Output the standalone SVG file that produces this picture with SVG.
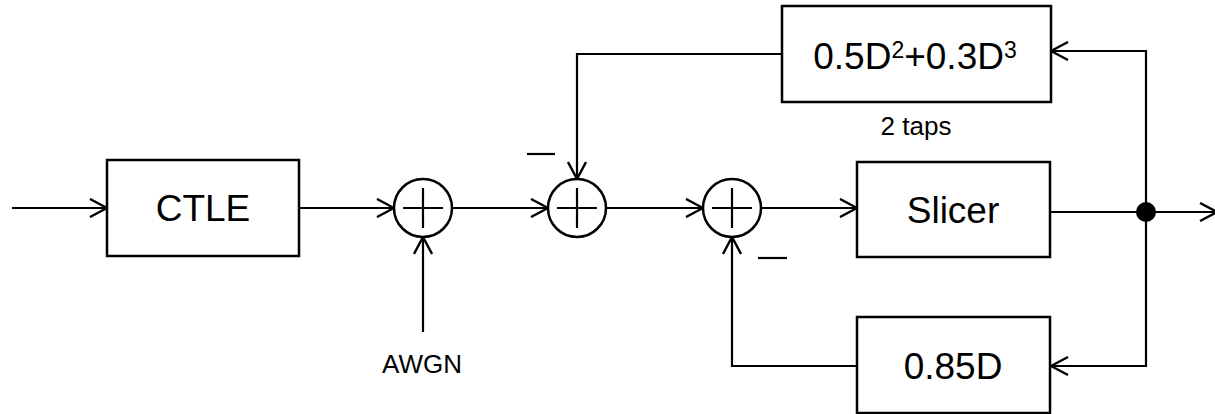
<svg xmlns="http://www.w3.org/2000/svg" width="1215" height="414" viewBox="0 0 1215 414">
<style>
.box{fill:#fff;stroke:#000;stroke-width:2.5}
.ln{fill:none;stroke:#000;stroke-width:2.2}
.sum{fill:#fff;stroke:#000;stroke-width:2.5}
.big{font-family:"Liberation Sans",Arial,sans-serif;font-size:37px;fill:#000;text-anchor:middle}
.small{font-family:"Liberation Sans",Arial,sans-serif;font-size:26px;fill:#000;text-anchor:middle}
</style>
<defs>
<marker id="arr" viewBox="0 0 20 20" refX="19" refY="10" markerWidth="20" markerHeight="20" markerUnits="userSpaceOnUse" orient="auto">
<path d="M2,1 L19,10 L2,19" fill="none" stroke="#000" stroke-width="2.4"/>
</marker>
</defs>
<g id="connectors">
<path class="ln" d="M12,208 H107" marker-end="url(#arr)"/>
<path class="ln" d="M299,208 H394" marker-end="url(#arr)"/>
<path class="ln" d="M423,332 V237" marker-end="url(#arr)"/>
<path class="ln" d="M452,208 H548" marker-end="url(#arr)"/>
<path class="ln" d="M782,54 H577 V179" marker-end="url(#arr)"/>
<path class="ln" d="M606,208 H703" marker-end="url(#arr)"/>
<path class="ln" d="M761,208 H857" marker-end="url(#arr)"/>
<path class="ln" d="M1050,212 H1217" marker-end="url(#arr)"/>
<path class="ln" d="M1146,212 V51 H1051" marker-end="url(#arr)"/>
<path class="ln" d="M1146,212 V366 H1051" marker-end="url(#arr)"/>
<path class="ln" d="M857,366 H732 V237" marker-end="url(#arr)"/>
<circle cx="1146" cy="212" r="10" fill="#000"/>
<path class="ln" d="M527,154 H555" stroke-width="3"/>
<path class="ln" d="M758,258 H787" stroke-width="3"/>
</g>
<g id="ctle">
<rect class="box" x="107" y="160" width="192" height="96"/>
<text class="big" x="203" y="221" font-size="36">CTLE</text>
</g>
<g id="sum1">
<circle class="sum" cx="423" cy="208" r="29"/>
<path class="ln" d="M403,208 H443 M423,188 V228"/>
</g>
<g id="awgn">
<text class="small" x="422" y="373" font-size="30">AWGN</text>
</g>
<g id="sum2">
<circle class="sum" cx="577" cy="208" r="29"/>
<path class="ln" d="M557,208 H597 M577,188 V228"/>
</g>
<g id="sum3">
<circle class="sum" cx="732" cy="208" r="29"/>
<path class="ln" d="M712,208 H752 M732,188 V228"/>
</g>
<g id="ffe">
<rect class="box" x="782" y="6" width="269" height="96"/>
<text class="big" x="915" y="69">0.5D<tspan font-size="23" dy="-11">2</tspan><tspan dy="11">+0.3D</tspan><tspan font-size="23" dy="-11">3</tspan></text>
<text class="small" x="916" y="135">2 taps</text>
</g>
<g id="slicer">
<rect class="box" x="857" y="162" width="193" height="95"/>
<text class="big" x="953" y="223">Slicer</text>
</g>
<g id="dfe">
<rect class="box" x="857" y="317" width="193" height="96"/>
<text class="big" x="953" y="379">0.85D</text>
</g>
</svg>
